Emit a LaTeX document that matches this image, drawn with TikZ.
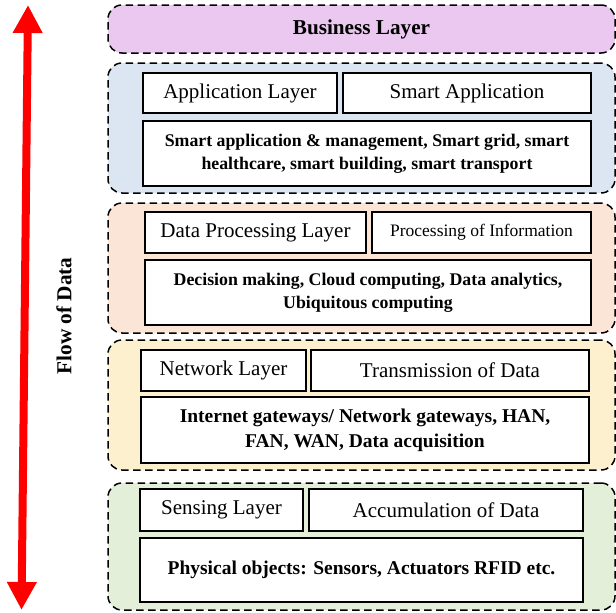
\documentclass[tikz,border=0pt]{standalone}
\usepackage{fontspec}
\setmainfont{Liberation Serif}
\usetikzlibrary{arrows.meta}
\definecolor{busfill}{HTML}{EAC8F0}
\definecolor{appfill}{HTML}{DCE6F2}
\definecolor{procfill}{HTML}{FBE5D6}
\definecolor{netfill}{HTML}{FDF0CF}
\definecolor{sensfill}{HTML}{E3EFD9}
\tikzset{
  layerbox/.style={rectangle, rounded corners=14pt, draw=black, line width=1.5pt, dash pattern=on 7.5pt off 4.5pt, inner sep=0pt, outer sep=0pt},
  innerbox/.style={rectangle, draw=black, line width=1.3pt, fill=white, inner sep=0pt, outer sep=0pt, align=center},
  titletext/.style={font=\fontsize{21}{25}\selectfont},
  smalltext/.style={font=\fontsize{17.5}{21}\selectfont},
  boldtext/.style={font=\bfseries\fontsize{17.8}{23}\selectfont},
  bigboldtext/.style={font=\bfseries\fontsize{19.5}{25}\selectfont},
  flowarrow/.style={draw=red, line width=8pt, {Triangle[width=28pt,length=28pt]}-{Triangle[width=28pt,length=28pt]}}
}
\begin{document}
\begin{tikzpicture}[x=1pt, y=-1pt]
\useasboundingbox (0,0) rectangle (616,613);
\node[layerbox, fill=busfill, minimum width=507pt, minimum height=48pt, font=\bfseries\fontsize{21.2}{25}\selectfont] (business) at (361.5,29) {Business Layer};
\node[layerbox, fill=appfill, minimum width=507pt, minimum height=130pt] (appgroup) at (361.5,128) {};
\node[layerbox, fill=procfill, minimum width=507pt, minimum height=130pt] (procgroup) at (361.5,268) {};
\node[layerbox, fill=netfill, minimum width=507pt, minimum height=130pt] (netgroup) at (361.5,405) {};
\node[layerbox, fill=sensfill, minimum width=507pt, minimum height=127pt] (sensgroup) at (361.5,546.5) {};
\node[innerbox, titletext, minimum width=194pt, minimum height=40pt] (applayer) at (240,93) {Application Layer};
\node[innerbox, titletext, minimum width=248pt, minimum height=40pt] (appsmart) at (467,93) {Smart Application};
\node[innerbox, boldtext, minimum width=448pt, minimum height=65pt] (appdesc) at (367,153.5) {Smart application \& management, Smart grid, smart\\healthcare, smart building, smart transport};
\node[innerbox, titletext, minimum width=221pt, minimum height=41pt] (proclayer) at (255.5,232.5) {Data Processing Layer};
\node[innerbox, smalltext, minimum width=219pt, minimum height=41pt] (procinfo) at (481.5,232.5) {Processing of Information};
\node[innerbox, boldtext, minimum width=446pt, minimum height=65pt] (procdesc) at (368,292.5) {Decision making, Cloud computing, Data analytics,\\Ubiquitous computing};
\node[innerbox, titletext, minimum width=165pt, minimum height=41pt] (netlayer) at (223.5,370.5) {Network Layer};
\node[innerbox, titletext, minimum width=278pt, minimum height=41pt] (nettrans) at (450,370.5) {Transmission of Data};
\node[innerbox, bigboldtext, minimum width=448pt, minimum height=66pt] (netdesc) at (365,430) {Internet gateways/ Network gateways, HAN,\\FAN, WAN, Data acquisition};
\node[innerbox, titletext, minimum width=163pt, minimum height=42pt] (senslayer) at (221.5,510) {Sensing Layer};
\node[innerbox, titletext, minimum width=274pt, minimum height=42pt] (sensacc) at (446,510) {Accumulation of Data};
\node[innerbox, bigboldtext, minimum width=443pt, minimum height=64pt] (sensdesc) at (361.5,570) {Physical objects: Sensors, Actuators RFID etc.};
\coordinate (flowtop) at (28,5);
\coordinate (flowbot) at (21.5,610);
\draw[flowarrow] (flowtop) -- (flowbot);
\node[rotate=90, font=\bfseries\fontsize{21.3}{25}\selectfont] (flowlabel) at (64,316) {Flow of Data};
\end{tikzpicture}
\end{document}
